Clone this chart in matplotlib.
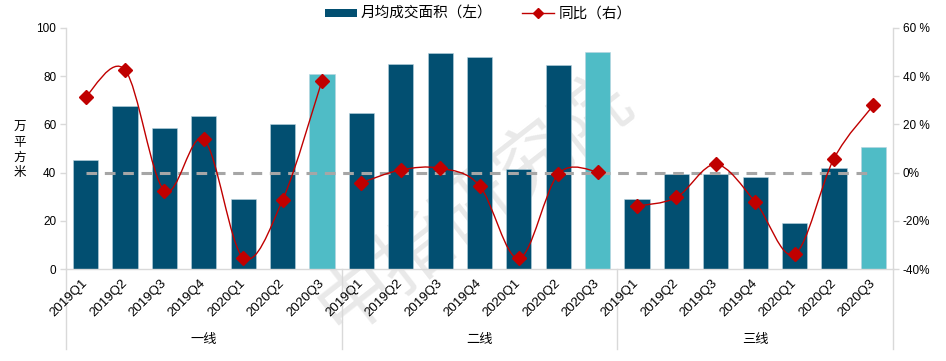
import numpy as np
import matplotlib
matplotlib.use("Agg")
import matplotlib.pyplot as plt
from matplotlib.patches import Patch
from matplotlib.lines import Line2D
from matplotlib.path import Path
from matplotlib.patches import PathPatch
import matplotlib.transforms as mtransforms

plt.rcParams['font.family'] = ['Liberation Sans', 'Noto Sans CJK SC', 'DejaVu Sans']

groups = ["一线", "二线", "三线"]
quarters = ["2019Q1", "2019Q2", "2019Q3", "2019Q4", "2020Q1", "2020Q2", "2020Q3"]
area_t1 = [45.2, 67.8, 58.4, 63.3, 29.2, 60.0, 80.8]
area_t2 = [64.6, 85.1, 89.6, 87.8, 41.5, 84.6, 89.9]
area_t3 = [29.2, 39.4, 39.4, 38.2, 19.2, 41.9, 50.6]
yoy_t1 = [31.5, 42.6, -7.5, 13.8, -35.3, -11.4, 38.1]
yoy_t2 = [-4.2, 1.1, 1.8, -5.4, -35.6, -0.6, 0.4]
yoy_t3 = [-13.9, -10.3, 3.4, -12.1, -33.9, 5.8, 27.9]
left_ticks = [0, 20, 40, 60, 80, 100]
right_ticks = [-40, -20, 0, 20, 40, 60]
right_labels = ["-40%", "-20%", "0%", "20 %", "40 %", "60 %"]

DARK = "#024F71"
LIGHT = "#4FBCC6"
RED = "#C00000"
GRID = "#D9D9D9"

areas = [area_t1, area_t2, area_t3]
yoys = [yoy_t1, yoy_t2, yoy_t3]
n = len(quarters)

fig = plt.figure(figsize=(9.46, 3.61), dpi=100)
ax = fig.add_axes([66/946, 1-269/361, (893-66)/946, 241/361])
ax2 = ax.twinx()
ax.set_zorder(1)
ax2.set_zorder(2)
ax.patch.set_visible(False)

# watermark
fig.text(475/946, 1 - 205/361, "中指研究院", fontsize=54, color="#C8C8C8", alpha=0.4,
         rotation=38, ha="center", va="center", family=['Noto Sans CJK SC'],
         fontweight="light", zorder=0)

xs_all = []
labels_all = []
for g in range(3):
    xs = np.arange(n) + g * n
    cols = [DARK] * (n - 1) + [LIGHT]
    ax.bar(xs, areas[g], width=0.64, color=cols, edgecolor="#B8D4E0", linewidth=0.4, zorder=2)
    xs_all.extend(xs)
    labels_all.extend(quarters)

ax.set_xlim(-0.5, 3 * n - 0.5)
ax.set_ylim(0, 100)
ax2.set_ylim(-40, 60)
ax.set_yticks(left_ticks)
ax.set_yticklabels([str(v) for v in left_ticks], fontsize=8.5)
ax2.set_yticks(right_ticks)
ax2.set_yticklabels(right_labels, fontsize=8.5)

# dashed zero line
ax2.plot([0, 3 * n - 1], [0, 0], color="#A6A6A6", lw=2.2, ls=(0, (3.5, 2.5)), zorder=1)

# smoothed lines (Catmull-Rom / Bezier, like Excel smoothing)
def smooth_path(x, y):
    pts = np.column_stack([x, y]).astype(float)
    P = np.vstack([pts[0], pts, pts[-1]])
    verts = [pts[0]]
    codes = [Path.MOVETO]
    for i in range(1, len(P) - 2):
        p0, p1, p2, p3 = P[i - 1], P[i], P[i + 1], P[i + 2]
        c1 = p1 + (p2 - p0) / 6.0
        c2 = p2 - (p3 - p1) / 6.0
        verts += [c1, c2, p2]
        codes += [Path.CURVE4] * 3
    return Path(verts, codes)

for g in range(3):
    xs = np.arange(n) + g * n
    ax2.add_patch(PathPatch(smooth_path(xs, yoys[g]), facecolor="none", edgecolor=RED, lw=1.0, zorder=3))
    ax2.plot(xs, yoys[g], ls="none", marker="D", ms=7, color=RED, zorder=4)

# x tick labels
ax.set_xticks(xs_all)
ax.set_xticklabels(labels_all, rotation=45, ha="right", va="center",
                   rotation_mode="anchor", fontsize=9.5)
ax.tick_params(axis="x", length=0, pad=9)
for a in (ax, ax2):
    a.tick_params(axis="y", length=4, color=GRID, width=1)
ax.tick_params(axis="y", pad=3)
ax2.tick_params(axis="y", pad=3)

for a in (ax, ax2):
    a.spines["top"].set_visible(False)
    for s in ["left", "right", "bottom"]:
        a.spines[s].set_color(GRID)
        a.spines[s].set_linewidth(1)
ax.spines["right"].set_visible(False)
ax2.spines["left"].set_visible(False)
ax2.spines["bottom"].set_visible(False)

# group separators extending below the axis
trans = mtransforms.blended_transform_factory(ax.transData, ax.transAxes)
ybot = -(349 - 269) / 241
for xv in [-0.5, n - 0.5, 2 * n - 0.5, 3 * n - 0.5]:
    ax.plot([xv, xv], [0, ybot], color=GRID, lw=1, transform=trans, clip_on=False, zorder=1)

# group labels
for g, name in enumerate(groups):
    ax.text(g * n + (n - 1) / 2, -(340 - 269) / 241, name, transform=trans,
            ha="center", va="center", fontsize=9.5, family=['Noto Sans CJK SC'])

# y label
fig.text(20/946, 1 - 150/361, "万\n平\n方\n米", ha="center", va="center",
         fontsize=9, linespacing=1.2, family=['Noto Sans CJK SC'])

handles = [Patch(facecolor=DARK, edgecolor="none"),
           Line2D([0], [0], color=RED, lw=1, marker="D", ms=5)]
fig.legend(handles, ["月均成交面积（左）", "同比（右）"], loc="center",
           bbox_to_anchor=(478/946, 1 - 14/361), ncol=2, frameon=False,
           prop={'family': ['Noto Sans CJK SC'], 'size': 10.5},
           handlelength=2.2, handleheight=0.5, handletextpad=0.3, columnspacing=2.0)

fig.savefig("out.png", dpi=100)
